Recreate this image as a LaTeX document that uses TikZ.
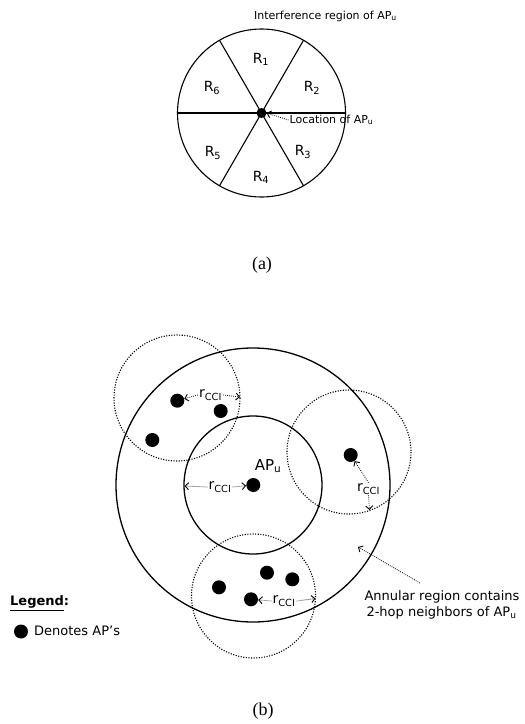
\documentclass[tikz,border=0pt]{standalone}
\usepackage{fontspec}
\setmainfont{DejaVu Sans}
\newfontfamily\capfont{Liberation Serif}
\usetikzlibrary{arrows.meta,calc}
\begin{document}
\begin{tikzpicture}[x=1pt,y=-1pt,
  solidc/.style={line width=1.3pt},
  sectline/.style={line width=1.1pt},
  dotc/.style={line width=1.1pt, dash pattern=on 1.1pt off 1.5pt},
  apdot/.style={circle, fill=black, inner sep=0pt, minimum size=14pt},
  cdot/.style={circle, fill=black, inner sep=0pt, minimum size=10pt},
  darrow/.style={line width=0.8pt, dash pattern=on 0.8pt off 1.2pt, -{Straight Barb[length=3.5pt,width=7pt,line width=0.9pt]}},
  lbl/.style={inner sep=1pt, font=\fontsize{11}{13}\selectfont},
  sect/.style={inner sep=0pt, font=\fontsize{14}{16}\selectfont},
  rlbl/.style={inner sep=1pt, font=\fontsize{14}{16}\selectfont},
  txt/.style={inner sep=0pt, font=\fontsize{13}{16}\selectfont, align=left},
  captxt/.style={inner sep=0pt, font=\capfont\fontsize{18}{20}\selectfont}
]
\useasboundingbox (0,0) rectangle (525,724);

% ---------- (a) ----------
\coordinate (c) at (261.5,113);
\draw[sectline] (c) circle[radius=84];
\draw[sectline] ($(c)+(0:84)$) -- ($(c)+(180:84)$);
\draw[sectline] ($(c)+(60:84)$) -- ($(c)+(240:84)$);
\draw[sectline] ($(c)+(120:84)$) -- ($(c)+(300:84)$);
\node[cdot] (loc) at (c) {};

\node[sect] (r1) at (261,59) {R\textsubscript{1}};
\node[sect] (r2) at (312,88) {R\textsubscript{2}};
\node[sect] (r3) at (303,152) {R\textsubscript{3}};
\node[sect] (r4) at (261,177) {R\textsubscript{4}};
\node[sect] (r5) at (213,153) {R\textsubscript{5}};
\node[sect] (r6) at (212,88) {R\textsubscript{6}};

\node[lbl] (intf) at (325.5,16) {Interference region of AP\textsubscript{u}};
\node[lbl] (locl) at (331.5,120) {Location of AP\textsubscript{u}};
\draw[darrow] (locl.west) -- (loc.east);

\node[captxt] (capa) at (262,265) {(a)};

% ---------- (b) ----------
\coordinate (o) at (253,485);
\draw[solidc] (o) circle[radius=137];
\draw[solidc] (o) circle[radius=69];

\coordinate (tl) at (177,398);
\coordinate (rt) at (349,452);
\coordinate (bt) at (253.5,596);
\draw[dotc] (tl) circle[radius=63];
\draw[dotc] (rt) circle[radius=62];
\draw[dotc] (bt) circle[radius=62];

\node[apdot] (a1) at (177.3,400.7) {};
\node[apdot] (a2) at (220.7,411) {};
\node[apdot] (a3) at (152.3,440) {};
\node[apdot] (apu) at (253.3,485) {};
\node[apdot] (a4) at (350.7,455) {};
\node[apdot] (a5) at (219,587.3) {};
\node[apdot] (a6) at (267,572.7) {};
\node[apdot] (a7) at (292.3,579.3) {};
\node[apdot] (a8) at (251,599.3) {};

\node[inner sep=0pt, font=\fontsize{15}{17}\selectfont] (apul) at (268,466) {AP\textsubscript{u}};

% r_CCI inner
\coordinate (e1) at (184.5,486);
\node[rlbl] (rl1) at (220,487) {r\textsubscript{CCI}};
\draw[darrow] (rl1.west) -- (e1);
\draw[darrow] (rl1.east) -- (apu);

% r_CCI top-left
\coordinate (e2) at (240,397);
\node[rlbl] (rl2) at (210.5,395) {r\textsubscript{CCI}};
\draw[darrow] (rl2.west) -- (a1);
\draw[darrow] (rl2.east) -- (e2);

% r_CCI right
\coordinate (e3) at (369.5,510);
\node[rlbl] (rl3) at (368.5,489) {r\textsubscript{CCI}};
\draw[darrow] (rl3.north) -- (a4);
\draw[darrow] (rl3.south) -- (e3);

% r_CCI bottom
\coordinate (e4) at (315.5,598.5);
\node[rlbl] (rl4) at (284,601) {r\textsubscript{CCI}};
\draw[darrow] (rl4.west) -- (a8);
\draw[darrow] (rl4.east) -- (e4);

% annular label
\node[txt] (annl) at (442,605) {Annular region contains\\\hspace*{2pt}2-hop neighbors of AP\textsubscript{u}};
\coordinate (an1) at (420,583);
\coordinate (an2) at (358,547);
\draw[darrow] (an1) -- (an2);

% legend
\node[txt, anchor=west, font=\fontsize{13}{16}\selectfont\bfseries] (leg) at (10,603) {\underline{Legend}:};
\node[apdot] (legdot) at (21,631.5) {};
\node[txt, anchor=west] (legt) at (34,631) {Denotes AP’s};

\node[captxt] (capb) at (263,711) {(b)};
\end{tikzpicture}
\end{document}
